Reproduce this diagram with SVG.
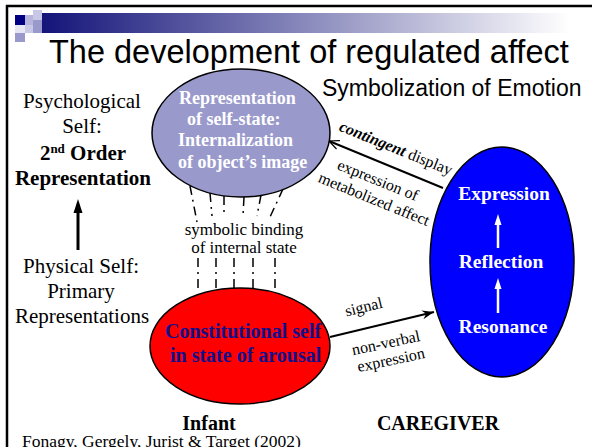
<svg xmlns="http://www.w3.org/2000/svg" width="592" height="447" viewBox="0 0 592 447">
  <defs>
    <linearGradient id="barGrad" x1="42" y1="0" x2="570" y2="0" gradientUnits="userSpaceOnUse">
      <stop offset="0" stop-color="#14147a"/>
      <stop offset="1" stop-color="#ffffff"/>
    </linearGradient>
    <marker id="openHead" markerWidth="14" markerHeight="12" refX="11" refY="6" orient="auto" markerUnits="userSpaceOnUse">
      <path d="M1,1.5 L11,6 L1,10.5" fill="none" stroke="#000" stroke-width="1.2"/>
    </marker>
    <marker id="barbHead" markerWidth="14" markerHeight="12" refX="12" refY="6" orient="auto" markerUnits="userSpaceOnUse">
      <path d="M0,1.5 L12,6 L0,10.5 L4,6 z" fill="#000"/>
    </marker>
    <style>
      .serif { font-family: "Liberation Serif", "Times New Roman", serif; }
      .sans { font-family: "Liberation Sans", Arial, sans-serif; }
      .bold { font-weight: bold; }
      .node { stroke: #000; stroke-width: 1.5; }
      .wtext { fill: #fff; font-weight: bold; }
      .bind { stroke: #000; stroke-width: 1.5; stroke-dasharray: 9 5 2 5; fill: none; }
      .lbl { font-size: 16px; fill: #000; }
      .side { font-size: 21px; fill: #000; text-anchor: middle; }
    </style>
  </defs>

  <rect width="592" height="447" fill="#fff"/>

  <!-- slide frame and header band -->
  <g id="header">
    <line x1="6" y1="6" x2="592" y2="6" stroke="#000" stroke-width="2.5"/>
    <line x1="7" y1="5" x2="7" y2="447" stroke="#000" stroke-width="2.5"/>
    <rect x="42" y="13" width="550" height="20" fill="url(#barGrad)"/>
    <rect x="15" y="15" width="10" height="10" fill="#000080"/>
    <rect x="25" y="15" width="8" height="10" fill="#b4b4dc"/>
    <rect x="33" y="10" width="9" height="10" fill="#c8c8e6"/>
    <rect x="33" y="20" width="9" height="13" fill="#9999cc"/>
    <rect x="25" y="25" width="8" height="8" fill="#c8c8e6"/>
    <rect x="15" y="25" width="10" height="8" fill="#e6e6f2"/>
    <rect x="15" y="33" width="10" height="9" fill="#9999cc"/>
    <text class="sans" x="49" y="63" font-size="32.5" fill="#000">The development of regulated affect</text>
    <text class="sans" x="322" y="96" font-size="23" fill="#000">Symbolization of Emotion</text>
  </g>

  <!-- left-hand column of self levels -->
  <g id="self-levels" class="serif">
    <text class="side" x="82" y="108">Psychological</text>
    <text class="side" x="82" y="133">Self:</text>
    <text class="side bold" x="83" y="160">2<tspan dy="-7" font-size="13">nd</tspan><tspan dy="7"> Order</tspan></text>
    <text class="side bold" x="83" y="185">Representation</text>
    <text class="side" x="81" y="273">Physical Self:</text>
    <text class="side" x="81" y="298">Primary</text>
    <text class="side" x="82" y="323">Representations</text>
  </g>

  <!-- connectors -->
  <g id="connectors">
    <line x1="78" y1="250" x2="78" y2="210" stroke="#000" stroke-width="3"/>
    <polygon points="78,199 73.5,213 82.5,213" fill="#000"/>
    <line x1="443" y1="188" x2="329" y2="141" stroke="#000" stroke-width="2" marker-end="url(#openHead)"/>
    <line x1="330" y1="337" x2="434" y2="312" stroke="#000" stroke-width="2" marker-end="url(#barbHead)"/>
    <!-- symbolic binding lines -->
    <line class="bind" x1="190" y1="186" x2="197" y2="222"/>
    <line class="bind" x1="210" y1="193" x2="212" y2="216"/>
    <line class="bind" x1="224" y1="196" x2="224" y2="216"/>
    <line class="bind" x1="244" y1="197" x2="243" y2="216"/>
    <line class="bind" x1="261" y1="195" x2="257" y2="216"/>
    <line class="bind" x1="283" y1="189" x2="270" y2="217"/>
    <line class="bind" x1="198" y1="258" x2="198" y2="292"/>
    <line class="bind" x1="216" y1="258" x2="216" y2="290"/>
    <line class="bind" x1="234" y1="258" x2="234" y2="289"/>
    <line class="bind" x1="253" y1="258" x2="253" y2="289"/>
    <line class="bind" x1="275" y1="258" x2="275" y2="291"/>
    <g class="serif lbl" text-anchor="middle">
      <text x="244" y="235" font-size="17">symbolic binding</text>
      <text x="244" y="253" font-size="17">of internal state</text>
      <text transform="translate(394,153) rotate(22)"><tspan font-weight="bold" font-style="italic">contingent</tspan> display</text>
      <text transform="translate(376,185) rotate(22)">expression of</text>
      <text transform="translate(372,204) rotate(22)">metabolized affect</text>
      <text transform="translate(365,312) rotate(-14)">signal</text>
      <text transform="translate(387,348) rotate(-12)">non-verbal</text>
      <text transform="translate(392,365) rotate(-12)">expression</text>
    </g>
  </g>

  <!-- infant: representation of self-state -->
  <g id="self-representation" class="serif">
    <ellipse class="node" cx="241" cy="133" rx="89" ry="64" fill="#9999cc"/>
    <g class="wtext" font-size="18">
      <text x="179" y="104">Representation</text>
      <text x="187" y="125">of self-state:</text>
      <text x="178" y="146">Internalization</text>
      <text x="178" y="168">of object’s image</text>
    </g>
  </g>

  <!-- infant: constitutional self -->
  <g id="constitutional-self" class="serif">
    <ellipse class="node" cx="240" cy="346" rx="90" ry="58" fill="#ff0000"/>
    <g font-size="20" font-weight="bold" fill="#10108c">
      <text x="165" y="338">Constitutional self</text>
      <text x="170" y="362">in state of arousal</text>
    </g>
  </g>

  <!-- caregiver -->
  <g id="caregiver" class="serif">
    <ellipse class="node" cx="502" cy="262" rx="72" ry="115" fill="#0000ff"/>
    <g class="wtext" font-size="19.5" text-anchor="middle">
      <text x="504" y="200">Expression</text>
      <text x="501" y="268">Reflection</text>
      <text x="503" y="333">Resonance</text>
    </g>
    <line x1="498" y1="248" x2="498" y2="222" stroke="#fff" stroke-width="2.5"/>
    <polygon points="498,214 494.5,225 501.5,225" fill="#fff"/>
    <line x1="498" y1="313" x2="498" y2="286" stroke="#fff" stroke-width="2.5"/>
    <polygon points="498,278 494.5,289 501.5,289" fill="#fff"/>
  </g>

  <!-- captions -->
  <g id="captions" class="serif" fill="#000">
    <text x="209" y="430" font-size="20" font-weight="bold" text-anchor="middle">Infant</text>
    <text x="438" y="430" font-size="20" font-weight="bold" text-anchor="middle">CAREGIVER</text>
    <text x="22" y="447" font-size="17.5">Fonagy, Gergely, Jurist &amp; Target (2002)</text>
  </g>
</svg>
